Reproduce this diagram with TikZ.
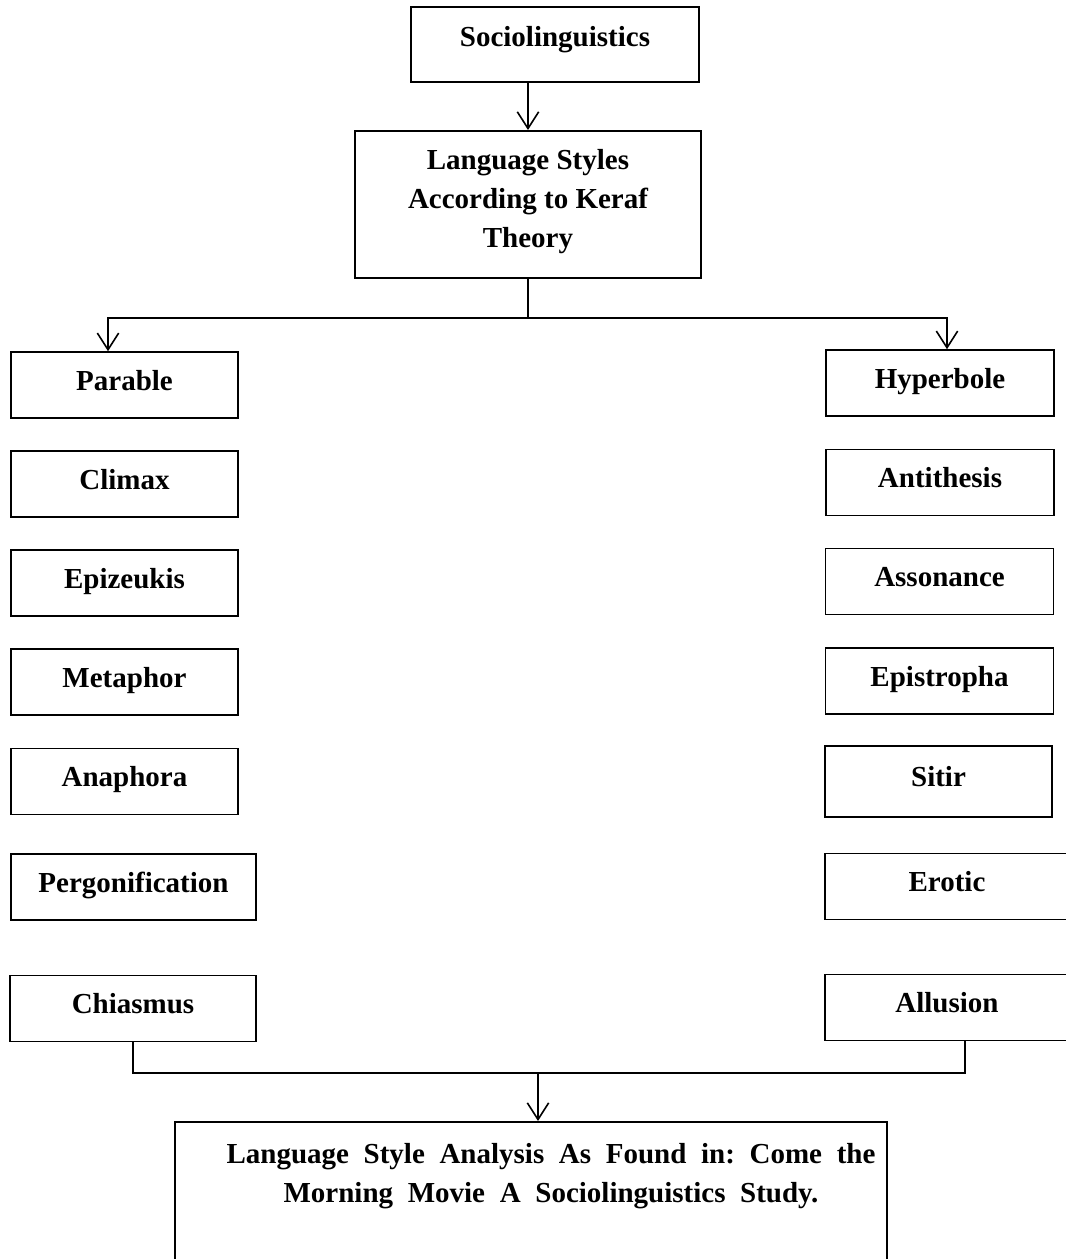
\documentclass[tikz,border=0pt]{standalone}
\usepackage{fontspec}
\setmainfont{Liberation Serif}
\usetikzlibrary{arrows.meta,calc}

\newcommand\widespacing{\frenchspacing\spaceskip=11pt\relax}

\tikzset{
  box/.style={draw, line width=1.2pt, inner sep=0pt, font=\fontsize{21.75}{29.25}\selectfont\bfseries,
    text height=15pt, text depth=7.5pt, minimum height=49.5pt},
  leftbox/.style={box, minimum width=170.25pt},
  rightbox/.style={box, minimum width=171pt},
  line/.style={line width=1.2pt},
  arr/.style={line, -{Straight Barb[length=12.5pt,width=16pt,line width=1.2pt]}}
}

\begin{document}
\begin{tikzpicture}[x=0.75pt,y=0.75pt,yscale=-1,xscale=1]
		\useasboundingbox (0,0) rectangle (1065,1259);
		
		% top of the chart
		\node [box, minimum width=216pt, minimum height=56.25pt, text depth=11.8pt] (socio) at (555,44.5) {Sociolinguistics};
		\node [box, anchor=north, minimum width=259.5pt, minimum height=0pt, text width=250pt, align=flush center, text height=29.25pt, text depth=81pt] (keraf) at (528,130) {Language Styles\\According to Keraf\\Theory};
		
		% left column
		\node [leftbox] (parable) at (124.5,385) {Parable};
		\node [leftbox] (climax) at (124.5,484) {Climax};
		\node [leftbox] (epizeukis) at (124.5,583) {Epizeukis};
		\node [leftbox] (metaphor) at (124.5,682) {Metaphor};
		\node [leftbox] (anaphora) at (124.5,781.5) {Anaphora};
		\node [box, minimum width=183.75pt] (pergon) at (133.5,887) {Pergonification};
		\node [box, minimum width=184.5pt] (chiasmus) at (133,1008.5) {Chiasmus};
		
		% right column
		\node [rightbox] (hyperbole) at (940,383) {Hyperbole};
		\node [rightbox] (antithesis) at (940,482.5) {Antithesis};
		\node [rightbox] (assonance) at (939.5,581.5) {Assonance};
		\node [rightbox] (epistropha) at (939.5,681) {Epistropha};
		\node [rightbox, minimum width=170.25pt, minimum height=53.25pt] (sitir) at (938.5,781.5) {Sitir};
		\node [box, minimum width=183pt] (erotic) at (947,886.5) {Erotic};
		\node [box, minimum width=183pt] (allusion) at (947,1007.5) {Allusion};
		
		% result, text sits a little right of centre
		\node [box, anchor=north, minimum width=534pt, minimum height=0pt, inner xsep=7pt, inner ysep=16.5pt, text width=520pt, align=flush center, text depth=72pt,
		       font=\fontsize{21.75}{29.25}\selectfont\bfseries\widespacing] (result) at (531,1121) {\hspace*{30pt}Language Style Analysis As Found in: Come the\\\hspace*{30pt}Morning Movie A Sociolinguistics Study.};
		
		\coordinate (split) at (528,318);
		\coordinate (merge) at (538,1073);
		
		\draw [arr] (socio.south -| keraf.north) -- (keraf.north);
		\draw [line] (keraf.south) -- (split);
		\draw [arr] (split) -| ($(parable.north)+(-16.5,0)$);
		\draw [arr] (split) -| ($(hyperbole.north)+(7,0)$);
		\draw [line] (chiasmus.south) |- (merge) -| ($(allusion.south)+(18,0)$);
		\draw [arr] (merge) -- (merge |- result.north);
		
\end{tikzpicture}
\end{document}
